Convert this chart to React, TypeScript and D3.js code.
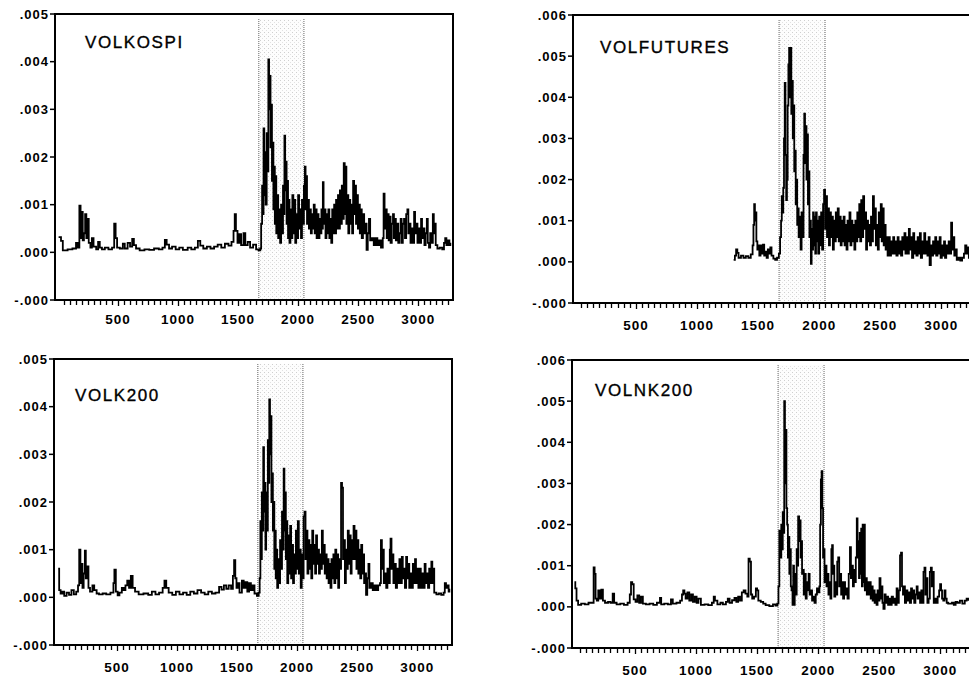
import React from 'react';
import * as d3 from 'd3';

// values are in units of 1e-4
const UNIT = 1e-4;

const VOLKOSPI: [number, number][] = [
  [5,3.2],[25,2.4],[40,0.4],[80,0.6],[120,0.8],[150,2.0],[165,1.0],[178,9.8],[188,3.0],[196,8.5],[206,2.5],[216,4],[226,8.0],[236,3.0],[246,7.0],[256,2.0],[270,1.0],[282,3.0],[296,1.2],[318,0.6],[334,2.2],[348,1.0],[366,0.6],[390,1.0],[420,0.6],[450,1.0],[468,6.0],[480,3.0],[492,1.0],[515,0.8],[540,1.8],[556,0.8],[580,2.0],[600,1.2],[618,2.8],[632,1.5],[650,0.8],[680,0.4],[720,0.6],[760,0.5],[800,0.8],[840,0.6],[870,1.0],[890,2.6],[905,1.6],[925,0.8],[950,1.2],[980,0.6],[1010,1.0],[1040,0.5],[1080,1.0],[1110,0.6],[1140,1.0],[1165,2.4],[1185,1.4],[1210,0.8],[1240,1.2],[1270,0.8],[1300,1.2],[1330,1.6],[1360,1.0],[1390,1.8],[1420,1.4],[1445,2.2],[1462,4.5],[1472,8.0],[1482,4.5],[1495,2.0],[1510,3.8],[1525,1.5],[1545,4.0],[1560,1.5],[1580,2.2],[1600,1.0],[1625,1.6],[1650,0.6],[1670,0.4],[1685,0.8],
  [1692,6],[1700,14],[1706,8],[1712,26],[1718,12],[1724,21],[1730,10],[1738,25],[1745,17],[1752,40.5],[1758,30],[1764,37],[1770,22],[1776,31],[1782,15],[1788,23],[1794,9],[1800,18],[1806,6],[1812,16],[1818,4],[1826,12],[1834,3],[1842,9],[1850,2],[1858,10],[1866,4],[1874,14],[1880,8],[1886,24.5],[1892,13],[1898,19],[1904,6],[1910,15],[1916,3],[1922,11],[1928,2],[1936,9],[1944,3],[1952,12],[1960,4],[1968,11],[1976,2],[1984,8],[1992,3],[2000,12],[2008,5],[2016,9],[2024,3],[2032,11],[2040,6],[2048,14],[2056,18],[2062,9],[2068,16],[2074,6],[2082,11],[2090,5],[2098,9],[2106,4],[2114,8],[2122,5],[2130,10],[2138,4],[2146,9],[2154,3],[2162,8],[2170,3],[2178,7],[2186,4],[2194,9],[2200,5],[2206,14.7],[2212,6],[2220,9],[2228,3],[2236,8],[2244,4],[2252,9],[2260,3],[2268,7],[2276,2],[2284,9],[2292,4],[2300,10],[2308,4],[2316,11],[2324,5],[2332,12],[2340,5],[2348,13],[2356,6],[2364,14],[2372,7],[2380,18.7],[2388,8],[2396,18],[2402,6],[2410,12],[2418,4],[2426,11],[2434,6],[2442,10],[2450,4],[2458,15],[2466,8],[2474,14],[2482,6],[2490,12],[2498,5],[2506,10],[2514,4],[2522,9],[2530,3],[2540,8],[2550,4],[2560,6],[2570,0.5],[2580,4],[2590,7],[2600,2.5],[2615,3],[2630,1.5],[2645,3],[2660,1.5],[2675,2.5],[2690,1],[2705,3],[2712,12.3],[2720,5],[2730,9],[2738,3],[2746,8],[2754,2.5],[2762,7.5],[2770,2],[2780,6],[2790,8],[2798,3],[2806,7],[2814,2.5],[2824,6],[2834,2],[2844,4],[2854,7],[2862,2],[2872,6],[2882,7],[2890,3],[2900,8],[2910,9],[2918,4],[2928,6],[2936,2],[2946,5],[2956,2],[2966,8.5],[2974,4],[2984,6],[2994,2],[3004,5],[3014,2],[3024,7],[3032,3],[3042,5],[3052,1.5],[3062,4],[3072,7],[3080,2],[3090,1],[3100,4],[3110,2],[3122,8],[3130,4],[3138,6],[3146,1.5],[3160,0.8],[3180,1],[3200,0.6],[3215,2],[3225,3],[3235,1.5],[3250,2.5],[3260,1.5],[3268,2]
];

const VOLFUTURES: [number, number][] = [
  [1300,0.5],[1310,1.5],[1320,3.0],[1330,2.2],[1340,1.0],[1360,1.5],[1380,1.0],[1400,1.4],[1420,1.0],[1440,1.8],[1455,4.0],[1462,9.0],[1468,14.0],[1474,10.0],[1480,12.0],[1486,5.0],[1494,3.0],[1502,4.0],[1510,1.5],[1520,4.0],[1530,2.0],[1540,4.2],[1550,1.5],[1560,2.5],[1570,1.0],[1580,3.0],[1590,2.0],[1600,3.5],[1610,1.5],[1625,0.8],[1640,0.5],[1655,1.0],[1670,2.0],[1680,6.0],
  [1688,10],[1694,16],[1700,12],[1706,18],[1712,30],[1718,43.5],[1724,26],[1730,15],[1736,20],[1742,38],[1748,48],[1754,52],[1760,40],[1766,52],[1772,36],[1778,44],[1784,30],[1790,38],[1796,22],[1802,27],[1808,14],[1814,20],[1820,9],[1826,13],[1832,6],[1840,11],[1848,3],[1856,12],[1864,6],[1872,26],[1878,36],[1884,24],[1890,33],[1896,20],[1902,31],[1908,14],[1914,22],[1920,6],[1926,10],[1932,-0.5],[1938,8],[1944,3],[1950,12],[1956,4],[1962,11],[1968,2],[1974,12],[1980,5],[1986,10],[1992,2],[2000,11],[2008,4],[2016,12],[2024,3],[2032,14],[2040,17.5],[2048,8],[2056,16],[2064,6],[2072,13],[2080,4],[2088,12],[2096,6],[2104,11],[2112,3],[2120,10],[2128,5],[2136,12],[2144,6],[2152,13],[2160,5],[2168,11],[2176,4],[2184,10],[2192,5],[2200,11],[2208,4],[2216,9],[2224,3],[2232,10],[2240,5],[2248,12],[2256,4],[2264,10],[2272,5],[2280,9],[2288,3],[2296,10],[2304,5],[2312,12],[2320,6],[2328,14],[2336,5],[2344,15],[2352,6],[2360,16],[2368,8],[2376,12],[2384,3],[2392,10],[2400,5],[2408,9],[2416,4],[2424,11],[2432,5],[2440,16],[2448,8],[2456,13],[2464,4],[2472,9],[2480,3],[2488,12],[2496,6],[2504,14],[2512,5],[2520,13],[2528,4],[2536,9],[2544,3],[2552,6],[2560,1.5],[2570,6],[2578,1.5],[2588,5],[2596,2],[2606,6],[2614,2],[2624,5],[2632,1.5],[2642,6],[2650,2],[2660,5],[2670,1.5],[2680,6],[2688,3],[2698,7],[2706,2],[2716,6],[2724,2],[2734,8],[2742,3],[2752,6],[2760,1],[2770,7],[2778,2],[2788,5],[2796,1.5],[2806,6],[2814,2],[2824,7],[2832,1],[2842,5],[2850,2],[2860,7],[2868,2],[2878,5],[2886,1.5],[2896,6],[2904,-0.8],[2914,4],[2922,1.5],[2932,5],[2940,2],[2950,6],[2958,1.5],[2968,5],[2976,2],[2986,6],[2994,1],[3004,4],[3012,1.5],[3022,5],[3030,1],[3040,4],[3050,2],[3060,5],[3070,2],[3080,9.5],[3088,3],[3098,6],[3106,1.5],[3116,3],[3126,0.5],[3140,1],[3155,0.3],[3170,1],[3185,2],[3195,4],[3205,2],[3215,3.5],[3225,1],[3240,2.5],[3255,1]
];

const VOLK200: [number, number][] = [
  [10,6.0],[18,1.5],[30,0.8],[45,1.2],[60,0.3],[80,1.0],[100,0.5],[120,1.5],[140,0.6],[160,1.2],[175,2.5],[185,10.0],[195,3.0],[205,7.0],[212,2.0],[222,5.0],[232,9.8],[240,4.0],[250,6.5],[262,2.0],[275,1.2],[295,2.5],[310,1.5],[330,0.8],[350,0.6],[380,0.8],[410,0.6],[445,1.0],[470,3.0],[478,5.8],[490,1.2],[505,0.4],[520,1.0],[540,2.0],[555,1.5],[570,2.5],[585,3.5],[600,2.0],[615,4.5],[630,2.0],[650,1.2],[680,0.6],[720,0.8],[760,0.5],[790,1.2],[820,0.6],[850,1.0],[880,2.0],[895,3.5],[910,2.0],[930,1.0],[960,0.5],[990,1.2],[1020,0.6],[1050,1.0],[1080,0.5],[1110,1.2],[1140,0.8],[1170,1.5],[1200,1.0],[1230,0.6],[1260,1.2],[1290,0.8],[1320,1.0],[1350,2.2],[1370,1.6],[1390,2.5],[1410,1.8],[1430,2.5],[1450,1.8],[1465,4.5],[1475,7.8],[1485,4.0],[1495,2.0],[1510,3.0],[1520,1.0],[1540,3.5],[1555,2.0],[1570,3.2],[1585,1.2],[1600,3.0],[1615,1.5],[1630,2.5],[1645,0.8],[1665,0.3],[1680,1.0],
  [1688,4],[1694,16],[1700,8],[1706,22],[1712,14],[1718,31.5],[1724,18],[1730,24],[1736,10],[1742,22],[1748,14],[1756,33],[1762,24],[1768,41.5],[1774,30],[1780,38],[1786,20],[1792,26],[1798,14],[1804,20],[1810,6],[1816,14],[1822,4],[1828,10],[1834,2],[1842,8],[1850,3],[1858,12],[1866,6],[1874,18],[1882,10],[1888,27],[1894,14],[1900,22],[1906,8],[1912,16],[1918,3],[1926,13],[1934,5],[1942,15],[1950,4],[1958,11],[1966,3],[1974,9],[1982,5],[1990,14],[1998,6],[2006,16],[2014,5],[2022,10],[2030,2],[2038,9],[2046,4],[2054,17],[2062,18],[2070,8],[2078,14],[2086,5],[2094,12],[2102,6],[2110,11],[2118,4],[2126,14],[2134,7],[2142,11],[2150,5],[2158,13],[2166,7],[2174,10],[2182,5],[2190,9],[2198,6],[2206,14],[2214,7],[2222,11],[2230,5],[2238,9],[2246,4],[2254,8],[2262,3],[2270,7],[2278,2],[2286,8],[2294,4],[2302,9],[2310,3],[2318,10],[2326,4],[2334,9],[2342,2],[2350,8],[2358,6],[2366,24],[2374,23],[2382,8],[2390,12],[2398,3],[2406,10],[2414,6],[2422,14],[2430,7],[2438,13],[2446,5],[2454,12],[2462,8],[2470,15],[2478,8],[2486,14],[2494,6],[2502,12],[2510,5],[2518,10],[2526,4],[2534,11],[2542,5],[2550,9],[2558,3],[2566,5],[2574,0.5],[2584,4],[2594,7],[2602,2],[2615,3],[2630,1.5],[2645,2.5],[2660,1.5],[2675,2.5],[2690,3],[2698,12],[2706,6],[2714,10],[2722,3],[2732,5],[2742,2],[2752,6],[2762,3],[2772,10],[2778,12.3],[2786,6],[2794,9],[2802,3],[2812,7],[2822,2],[2832,6],[2842,3],[2852,8],[2862,3],[2872,8.5],[2880,4],[2890,6],[2898,2],[2908,8.5],[2916,4],[2926,7],[2934,2],[2944,5],[2954,2],[2964,7],[2972,3],[2982,8],[2990,3],[3000,6],[3010,2],[3020,6],[3030,2],[3040,5],[3050,2],[3062,7],[3070,3],[3080,5],[3090,2],[3100,6],[3108,3],[3118,7.5],[3126,3],[3134,6],[3142,1],[3160,0.6],[3180,0.8],[3200,0.5],[3220,1],[3230,3],[3240,2],[3252,2.5],[3262,1.2],[3268,1.8]
];

const VOLNK200: [number, number][] = [
  [5,6.0],[12,4.5],[22,1.5],[35,0.5],[60,0.8],[90,0.6],[120,1.0],[150,1.0],[162,9.6],[170,8.0],[178,2.0],[188,1.5],[200,4.0],[212,2.0],[225,4.2],[238,1.5],[255,1.0],[280,1.2],[300,1.0],[318,3.2],[330,1.0],[350,0.6],[380,0.8],[410,0.5],[440,1.0],[458,3.0],[468,6.0],[478,5.5],[490,1.8],[505,1.2],[520,2.8],[535,1.0],[550,2.5],[565,0.8],[590,0.6],[620,0.8],[650,0.5],[680,1.0],[705,2.2],[715,0.6],[740,0.8],[770,0.6],[795,1.8],[810,0.8],[840,1.0],[870,1.5],[885,3.0],[895,4.0],[905,3.2],[915,2.0],[930,3.5],[945,1.5],[960,3.0],[975,1.2],[990,2.5],[1005,1.0],[1020,2.0],[1040,0.5],[1070,0.6],[1100,0.4],[1130,1.0],[1145,2.5],[1155,1.5],[1175,0.6],[1200,1.0],[1220,0.6],[1245,1.2],[1260,2.0],[1275,1.0],[1295,1.6],[1315,2.2],[1330,1.2],[1345,2.5],[1360,1.5],[1375,3.5],[1390,4.0],[1405,3.2],[1420,2.5],[1430,11.7],[1440,11.0],[1450,3.0],[1460,2.0],[1475,2.5],[1490,4.5],[1500,4.0],[1510,1.5],[1530,1.2],[1550,0.8],[1570,0.4],[1600,0.2],[1630,0.6],[1650,0.3],[1665,0.8],
  [1675,5],[1682,18.5],[1690,12],[1698,20],[1704,14],[1710,23],[1716,18],[1722,50],[1728,30],[1734,43],[1740,24],[1746,20],[1752,12],[1758,17],[1764,8],[1770,14],[1776,5],[1782,4],[1790,0.5],[1796,10],[1802,0.5],[1808,8],[1816,3],[1824,14],[1830,10],[1836,22],[1844,16],[1850,21],[1856,12],[1862,16],[1868,8],[1874,9],[1882,3],[1890,8],[1898,2],[1906,6],[1914,4],[1922,8],[1930,3],[1940,4],[1950,1.5],[1960,2.5],[1970,1],[1980,3],[1990,4.5],[2000,3.5],[2010,5],[2016,20],[2022,31],[2028,33],[2034,24],[2040,12],[2046,14],[2052,6],[2060,10],[2068,5],[2076,8],[2084,3],[2092,6],[2100,2],[2108,14],[2114,15],[2120,8],[2126,10],[2132,2.5],[2140,6],[2148,3],[2156,11],[2164,12],[2172,5],[2180,8],[2188,3],[2196,6],[2204,2],[2212,6],[2220,3],[2230,4.5],[2240,2],[2250,8],[2260,14.5],[2268,7],[2276,10],[2284,5],[2292,9],[2300,6],[2308,12],[2316,21.5],[2322,12],[2328,16],[2334,7],[2340,18],[2346,8],[2352,19],[2358,5],[2364,20],[2370,6],[2376,20],[2382,4],[2390,7],[2398,3],[2406,6],[2414,3],[2422,6],[2430,2],[2438,5],[2446,1.5],[2454,4],[2462,1],[2470,3],[2478,0.5],[2486,4],[2494,1.5],[2502,7],[2510,2],[2518,5],[2526,1],[2534,-0.5],[2544,3],[2552,1],[2562,2.5],[2572,0.5],[2582,2],[2592,0.5],[2602,2.5],[2612,1],[2622,2],[2632,0.5],[2642,4.5],[2650,1],[2660,4],[2670,12.5],[2678,13.2],[2686,5],[2694,3],[2702,5],[2710,1],[2720,4],[2730,1.5],[2740,3.5],[2750,1],[2760,4.5],[2768,2],[2778,4],[2786,1],[2796,3],[2806,5],[2814,2],[2824,3.5],[2834,1],[2844,4],[2852,1],[2862,8.5],[2870,9.5],[2878,3],[2886,7],[2894,1],[2904,2],[2914,8.5],[2922,9.5],[2930,5],[2938,8.5],[2946,1],[2956,2],[2966,1],[2978,2.5],[2990,4],[2998,5.5],[3006,4],[3014,2],[3024,1.5],[3034,4],[3042,2],[3052,1],[3064,0.8],[3080,0.8],[3095,1.0],[3110,0.5],[3125,1.2],[3140,1.0],[3160,1.5],[3180,0.8],[3200,1.5],[3215,2],[3230,1.5]
];

const Y_VALUES_5 = [-0.001, 0, 0.001, 0.002, 0.003, 0.004, 0.005];
const Y_LABELS_5 = ['-.000', '.000', '.001', '.002', '.003', '.004', '.005'];
const Y_VALUES_6 = [-0.001, 0, 0.001, 0.002, 0.003, 0.004, 0.005, 0.006];
const Y_LABELS_6 = ['-.000', '.000', '.001', '.002', '.003', '.004', '.005', '.006'];
const X_LABELS = [500, 1000, 1500, 2000, 2500, 3000];
const SHADE_RANGE = [1672, 2048];

type Panel = {
  name: string; data: [number, number][];
  left: number; right: number; top: number; bottom: number;
  dom: [number, number]; yVals: number[]; yLabels: string[];
  titleDx: number; titleDy: number; labelDy: number;
};

const PANELS: Panel[] = [
  { name: 'VOLKOSPI', data: VOLKOSPI, left: 55, right: 453, top: 14, bottom: 300, dom: [-25, 3290], yVals: Y_VALUES_5, yLabels: Y_LABELS_5, titleDx: 30, titleDy: 34, labelDy: 24 },
  { name: 'VOLFUTURES', data: VOLFUTURES, left: 573, right: 978, top: 15, bottom: 303, dom: [-15, 3300], yVals: Y_VALUES_6, yLabels: Y_LABELS_6, titleDx: 27, titleDy: 38, labelDy: 27 },
  { name: 'VOLK200', data: VOLK200, left: 54, right: 452, top: 359, bottom: 645, dom: [-25, 3290], yVals: Y_VALUES_5, yLabels: Y_LABELS_5, titleDx: 21, titleDy: 42, labelDy: 27 },
  { name: 'VOLNK200', data: VOLNK200, left: 572, right: 977, top: 360, bottom: 648, dom: [-15, 3300], yVals: Y_VALUES_6, yLabels: Y_LABELS_6, titleDx: 23, titleDy: 36, labelDy: 27 },
];

const FONT = '"Liberation Sans", Arial, Helvetica, sans-serif';

function ChartPanel({ p }: { p: Panel }) {
  const x = d3.scaleLinear().domain(p.dom).range([p.left, p.right]);
  const y = d3.scaleLinear().domain([p.yVals[0], p.yVals[p.yVals.length - 1]]).range([p.bottom, p.top]);
  const line = d3.line<[number, number]>()
    .x(d => x(d[0]))
    .y(d => y(d[1] * UNIT))
    .curve(d3.curveStepAfter);
  const minor = d3.range(50, 3300, 50);
  const sx0 = x(SHADE_RANGE[0]);
  const sx1 = x(SHADE_RANGE[1]);
  return (
    <g>
      <rect x={sx0} y={p.top + 5} width={sx1 - sx0} height={p.bottom - p.top - 5} fill={`url(#dots)`} />
      <line x1={sx0} x2={sx0} y1={p.top + 5} y2={p.bottom} stroke="#8a8a8a" strokeWidth={1.3} strokeDasharray="1,1" />
      <line x1={sx1} x2={sx1} y1={p.top + 5} y2={p.bottom} stroke="#8a8a8a" strokeWidth={1.3} strokeDasharray="1,1" />
      <path d={line(p.data) || ''} fill="none" stroke="#000" strokeWidth={1.8} strokeLinejoin="miter" />
      <rect x={p.left} y={p.top} width={p.right - p.left} height={p.bottom - p.top} fill="none" stroke="#000" strokeWidth={2} />
      {minor.map(v => (
        <line key={v} x1={Math.round(x(v)) + 0.5} x2={Math.round(x(v)) + 0.5} y1={p.bottom} y2={p.bottom + (v % 500 === 0 ? 6 : 5)} stroke="#000" strokeWidth={1.3} />
      ))}
      {X_LABELS.map(v => (
        <text key={v} x={x(v)} y={p.bottom + p.labelDy} textAnchor="middle" fontFamily={FONT} fontWeight="bold" fontSize={13.5} letterSpacing={1}>{v}</text>
      ))}
      {p.yVals.map((v, i) => (
        <g key={i}>
          <line x1={p.left - 5} x2={p.left} y1={y(v)} y2={y(v)} stroke="#000" strokeWidth={1.5} />
          <text x={p.left - 6} y={y(v) + 4.5} textAnchor="end" fontFamily={FONT} fontWeight="bold" fontSize={13} letterSpacing={1}>{p.yLabels[i]}</text>
        </g>
      ))}
      <text x={p.left + p.titleDx} y={p.top + p.titleDy} fontFamily={FONT} fontSize={17} letterSpacing={1.6} stroke="#000" strokeWidth={0.35}>{p.name}</text>
    </g>
  );
}

export default function App() {
  return (
    <svg width={969} height={678} style={{ position: 'absolute', left: 0, top: 0, background: '#fff' }}>
      <defs>
        <pattern id="dots" width={4} height={4} patternUnits="userSpaceOnUse">
          <rect width={4} height={4} fill="#fdfdfd" />
          <rect width={1} height={1} fill="#cfcfcf" />
          <rect x={2} y={2} width={1} height={1} fill="#e2e2e2" />
        </pattern>
      </defs>
      {PANELS.map(p => <ChartPanel key={p.name} p={p} />)}
    </svg>
  );
}
